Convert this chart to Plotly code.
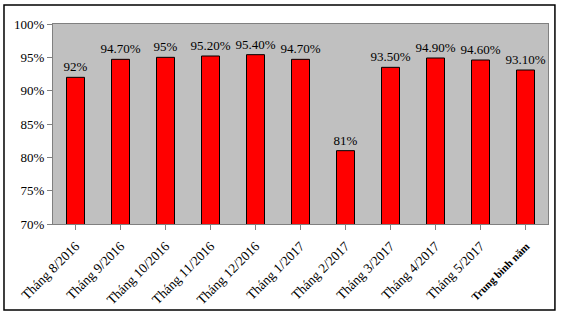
import plotly.graph_objects as go

categories = ["Tháng 8/2016", "Tháng 9/2016", "Tháng 10/2016", "Tháng 11/2016",
              "Tháng 12/2016", "Tháng 1/2017", "Tháng 2/2017", "Tháng 3/2017",
              "Tháng 4/2017", "Tháng 5/2017", "Trung bình năm"]
values = [92, 94.7, 95, 95.2, 95.4, 94.7, 81, 93.5, 94.9, 94.6, 93.1]
labels = ["92%", "94.70%", "95%", "95.20%", "95.40%", "94.70%", "81%",
          "93.50%", "94.90%", "94.60%", "93.10%"]
y_ticks = [70, 75, 80, 85, 90, 95, 100]
y_ticktext = ["70%", "75%", "80%", "85%", "90%", "95%", "100%"]

serif = "Liberation Serif, Times New Roman, serif"

tick_labels = categories[:-1] + [
    '<span style="font-size:11px;font-weight:bold;">' + categories[-1] + '</span>'
]

fig = go.Figure()
fig.add_trace(go.Bar(
    x=list(range(len(categories))),
    y=values,
    base=0,
    text=labels,
    textposition="outside",
    constraintext="none",
    textfont=dict(family=serif, size=13, color="black"),
    cliponaxis=False,
    marker=dict(color="#FF0000", line=dict(color="black", width=1)),
    width=0.4,
))

fig.update_layout(
    width=561, height=316,
    margin=dict(l=53, r=13, t=24, b=92, autoexpand=False),
    paper_bgcolor="white",
    plot_bgcolor="#C0C0C0",
    showlegend=False,
    font=dict(family=serif, size=12, color="black"),
    xaxis=dict(
        tickmode="array",
        tickvals=list(range(len(categories))),
        ticktext=tick_labels,
        tickangle=-45,
        range=[-0.5, len(categories) - 0.5],
        showgrid=False,
        automargin=False,
        showline=True, linecolor="#808080", linewidth=1, mirror=True,
        ticks="outside", tickcolor="#808080", ticklen=5,
        tickson="boundaries",
        ticklabelstandoff=3,
        tickfont=dict(family=serif, size=13.5, color="black"),
    ),
    yaxis=dict(
        range=[70, 100],
        tickmode="array",
        tickvals=y_ticks,
        ticktext=y_ticktext,
        showgrid=False,
        zeroline=False,
        automargin=False,
        showline=True, linecolor="#808080", linewidth=1, mirror=True,
        ticks="outside", tickcolor="#808080", ticklen=5,
        tickfont=dict(family=serif, size=13, color="black"),
    ),
    shapes=[dict(
        type="rect", xref="paper", yref="paper",
        x0=-0.099, x1=1.014, y0=-0.43, y1=1.095,
        line=dict(color="black", width=1.5), fillcolor="rgba(0,0,0,0)",
        layer="below",
    )],
)

fig.write_html("out.html")
